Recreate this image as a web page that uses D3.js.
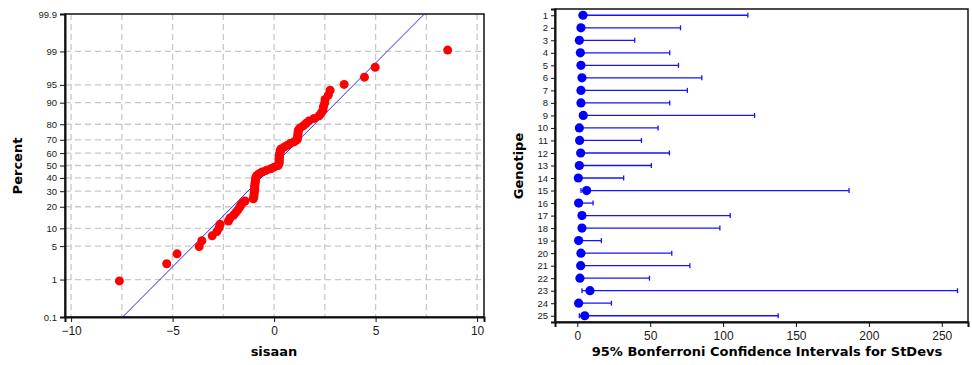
<!DOCTYPE html>
<html>
<head>
<meta charset="utf-8">
<script src="https://cdn.jsdelivr.net/npm/d3@7"></script>
<style>
  body { margin: 0; background: #fff; }
  svg { display: block; font-family: "DejaVu Sans", Verdana, sans-serif; }
</style>
</head>
<body>
<svg id="chart" width="972" height="365"></svg>
<script>
// residuals (sorted)
const residuals = [
  -7.62, -5.29, -4.78, -3.69, -3.56, -3.05, -2.82, -2.71, -2.66, -2.25,
  -2.17, -2.00, -1.89, -1.79, -1.71, -1.64, -1.56, -1.43, -1.02, -1.00,
  -0.99, -0.98, -0.97, -0.96, -0.96, -0.95, -0.94, -0.93, -0.92, -0.91,
  -0.89, -0.84, -0.74, -0.59, -0.39, -0.16, 0.00, 0.20, 0.24, 0.25,
  0.25, 0.25, 0.26, 0.26, 0.27, 0.30, 0.30, 0.34, 0.49, 0.64,
  0.79, 0.99, 1.13, 1.16, 1.16, 1.18, 1.18, 1.20, 1.28, 1.45,
  1.58, 1.72, 1.97, 2.22, 2.32, 2.41, 2.43, 2.49, 2.51, 2.67,
  2.76, 3.45, 4.45, 4.98, 8.55
];
const fitMean = -0.03;
const fitSd = 2.405;
const percentTicks = [0.1, 1, 5, 10, 20, 30, 40, 50, 60, 70, 80, 90, 95, 99, 99.9];
const residTicks = [-10, -5, 0, 5, 10];
const residGrid = [-10, -7.5, -5, -2.5, 0, 2.5, 5, 7.5, 10];

// Bonferroni intervals for StDevs
const genotypes = ["1","2","3","4","5","6","7","8","9","10","11","12","13",
  "14","15","16","17","18","19","20","21","22","23","24","25"];
const sdEstimate = [3.9, 2.5, 1.4, 2.1, 2.5, 3.2, 2.5, 2.5, 4.1, 1.4, 1.6, 2.3, 1.4,
  0.7, 6.4, 0.9, 3.2, 3.2, 0.9, 2.5, 2.3, 1.8, 8.7, 0.9, 5.1];
const sdLower = [1.5, 1.0, 0.6, 0.8, 1.0, 1.2, 1.0, 1.0, 1.6, 0.5, 0.6, 0.9, 0.5,
  0.3, 2.5, 0.4, 1.2, 1.2, 0.4, 1.0, 0.9, 0.7, 3.2, 0.3, 1.4];
const sdUpper = [117, 70.8, 39.4, 63.4, 69.4, 85.4, 75.5, 63.4, 121.6, 55.4, 44, 63.2, 50.8,
  31.8, 186.4, 10.8, 104.9, 97.8, 16.5, 64.8, 77.2, 49.5, 260.8, 23.4, 137.8];
const sdTicks = [0, 50, 100, 150, 200, 250];

// inverse normal CDF (Acklam)
const probit = p => {
  const a = [-39.69683028665376, 220.9460984245205, -275.9285104469687, 138.3577518672690, -30.66479806614716, 2.506628277459239];
  const b = [-54.47609879822406, 161.5858368580409, -155.6989798598866, 66.80131188771972, -13.28068155288572];
  const c = [-0.007784894002430293, -0.3223964580411365, -2.400758277161838, -2.549732539343734, 4.374664141464968, 2.938163982698783];
  const d = [0.007784695709041462, 0.3224671290700398, 2.445134137142996, 3.754408661907416];
  const pl = 0.02425;
  if (p < pl) {
    const q = Math.sqrt(-2 * Math.log(p));
    return (((((c[0]*q+c[1])*q+c[2])*q+c[3])*q+c[4])*q+c[5]) / ((((d[0]*q+d[1])*q+d[2])*q+d[3])*q+1);
  }
  if (p > 1 - pl) {
    const q = Math.sqrt(-2 * Math.log(1 - p));
    return -(((((c[0]*q+c[1])*q+c[2])*q+c[3])*q+c[4])*q+c[5]) / ((((d[0]*q+d[1])*q+d[2])*q+d[3])*q+1);
  }
  const q = p - 0.5, r = q * q;
  return (((((a[0]*r+a[1])*r+a[2])*r+a[3])*r+a[4])*r+a[5])*q / (((((b[0]*r+b[1])*r+b[2])*r+b[3])*r+b[4])*r+1);
};

const svg = d3.select("#chart");
const tickColor = "#1a1a1a";
const gridColor = "#c8c8c8";

// ---------- left: normal probability plot ----------
const L = { left: 65, right: 484, top: 14, bottom: 317 };
const zMax = probit(0.999);
const xRes = d3.scaleLinear().domain([-10.3, 10.34]).range([L.left, L.right]);
const zScale = d3.scaleLinear().domain([-zMax, zMax]).range([L.bottom, L.top]);
const yPct = pct => zScale(probit(pct / 100));

const left = svg.append("g").attr("class", "prob-plot");

left.selectAll(".vgrid")
  .data(residGrid)
  .enter()
  .append("line")
  .attr("class", "vgrid")
  .attr("x1", d => xRes(d)).attr("x2", d => xRes(d))
  .attr("y1", L.top).attr("y2", L.bottom)
  .attr("stroke", gridColor).attr("stroke-width", 1.3)
  .attr("stroke-dasharray", "6,4");

left.selectAll(".hgrid")
  .data(percentTicks.slice(1, -1))
  .enter()
  .append("line")
  .attr("class", "hgrid")
  .attr("x1", L.left).attr("x2", L.right)
  .attr("y1", d => yPct(d)).attr("y2", d => yPct(d))
  .attr("stroke", gridColor).attr("stroke-width", 1.3)
  .attr("stroke-dasharray", "6,4");

left.append("defs").append("clipPath").attr("id", "prob-clip")
  .append("rect")
  .attr("x", L.left).attr("y", L.top)
  .attr("width", L.right - L.left).attr("height", L.bottom - L.top);

// fitted line
left.append("line")
  .attr("clip-path", "url(#prob-clip)")
  .attr("x1", xRes(fitMean - fitSd * zMax)).attr("y1", zScale(-zMax))
  .attr("x2", xRes(fitMean + fitSd * zMax)).attr("y2", zScale(zMax))
  .attr("stroke", "#2828ff").attr("stroke-width", 1);

const n = residuals.length;
left.selectAll(".resid")
  .data(residuals)
  .enter()
  .append("circle")
  .attr("class", "resid")
  .attr("cx", d => xRes(d))
  .attr("cy", (d, i) => zScale(probit((i + 1 - 0.3) / (n + 0.4))))
  .attr("r", 4.5)
  .attr("fill", "#ff0000");

// frame
left.append("rect")
  .attr("x", L.left).attr("y", L.top)
  .attr("width", L.right - L.left).attr("height", L.bottom - L.top)
  .attr("fill", "none").attr("stroke", "#111").attr("stroke-width", 1.5);

const yAxisL = d3.axisLeft(zScale)
  .tickValues(percentTicks.map(p => probit(p / 100)))
  .tickFormat((d, i) => String(percentTicks[i]))
  .tickSize(5).tickPadding(3);
left.append("g")
  .attr("transform", `translate(${L.left},0)`)
  .call(yAxisL)
  .call(g => g.select(".domain").attr("stroke", "#111").attr("stroke-width", 2))
  .call(g => g.selectAll(".tick line").attr("stroke", "#111"))
  .call(g => g.selectAll("text").attr("font-size", 9.5).attr("fill", tickColor).attr("font-family", null));

const xAxisL = d3.axisBottom(xRes).tickValues(residTicks).tickSize(5).tickPadding(4);
left.append("g")
  .attr("transform", `translate(0,${L.bottom})`)
  .call(xAxisL)
  .call(g => g.select(".domain").attr("stroke", "#111").attr("stroke-width", 2))
  .call(g => g.selectAll(".tick line").attr("stroke", "#111"))
  .call(g => g.selectAll("text").attr("font-size", 12).attr("fill", tickColor).attr("font-family", null));

left.append("text")
  .attr("x", 274).attr("y", 356)
  .attr("text-anchor", "middle")
  .attr("font-size", 13).attr("font-weight", "bold")
  .text("sisaan");

left.append("text")
  .attr("transform", "translate(22,166) rotate(-90)")
  .attr("text-anchor", "middle")
  .attr("font-size", 13).attr("font-weight", "bold")
  .text("Percent");

// ---------- right: Bonferroni intervals ----------
const R = { left: 555, right: 968, top: 9, bottom: 322 };
const xSd = d3.scaleLinear().domain([-15.3, 268]).range([R.left, R.right]);
const yGen = d3.scalePoint().domain(genotypes).range([R.top, R.bottom]).padding(0.5);

const right = svg.append("g").attr("class", "interval-plot");
const blue = "#1414ff";

right.selectAll(".ci")
  .data(genotypes)
  .enter()
  .append("g")
  .attr("class", "ci")
  .each(function(d, i) {
    const row = d3.select(this);
    const y = yGen(d);
    const x0 = xSd(sdLower[i]), x1 = xSd(sdUpper[i]);

    row.append("line")
      .attr("x1", x0).attr("x2", x1)
      .attr("y1", y).attr("y2", y)
      .attr("stroke", blue).attr("stroke-width", 1.3);

    // caps
    [x0, x1].forEach(x => row.append("line")
      .attr("x1", x).attr("x2", x)
      .attr("y1", y - 2.5).attr("y2", y + 2.5)
      .attr("stroke", blue).attr("stroke-width", 1.3));

    row.append("circle")
      .attr("cx", xSd(sdEstimate[i])).attr("cy", y)
      .attr("r", 4.6)
      .attr("fill", "#0000ff");
  });

right.append("rect")
  .attr("x", R.left).attr("y", R.top)
  .attr("width", R.right - R.left).attr("height", R.bottom - R.top)
  .attr("fill", "none").attr("stroke", "#111").attr("stroke-width", 1.5);

const yAxisR = d3.axisLeft(yGen).tickSize(4).tickPadding(3);
right.append("g")
  .attr("transform", `translate(${R.left},0)`)
  .call(yAxisR)
  .call(g => g.select(".domain").attr("stroke", "#111").attr("stroke-width", 2))
  .call(g => g.selectAll(".tick line").attr("stroke", "#111"))
  .call(g => g.selectAll("text").attr("font-size", 9.5).attr("fill", tickColor).attr("font-family", null));

const xAxisR = d3.axisBottom(xSd).tickValues(sdTicks).tickSize(5).tickPadding(4);
right.append("g")
  .attr("transform", `translate(0,${R.bottom})`)
  .call(xAxisR)
  .call(g => g.select(".domain").attr("stroke", "#111").attr("stroke-width", 2))
  .call(g => g.selectAll(".tick line").attr("stroke", "#111"))
  .call(g => g.selectAll("text").attr("font-size", 12).attr("fill", tickColor).attr("font-family", null));

right.append("text")
  .attr("x", 767).attr("y", 356)
  .attr("text-anchor", "middle")
  .attr("font-size", 13).attr("font-weight", "bold")
  .text("95% Bonferroni Confidence Intervals for StDevs");

right.append("text")
  .attr("transform", "translate(523,166) rotate(-90)")
  .attr("text-anchor", "middle")
  .attr("font-size", 13).attr("font-weight", "bold")
  .text("Genotipe");
</script>
</body>
</html>
